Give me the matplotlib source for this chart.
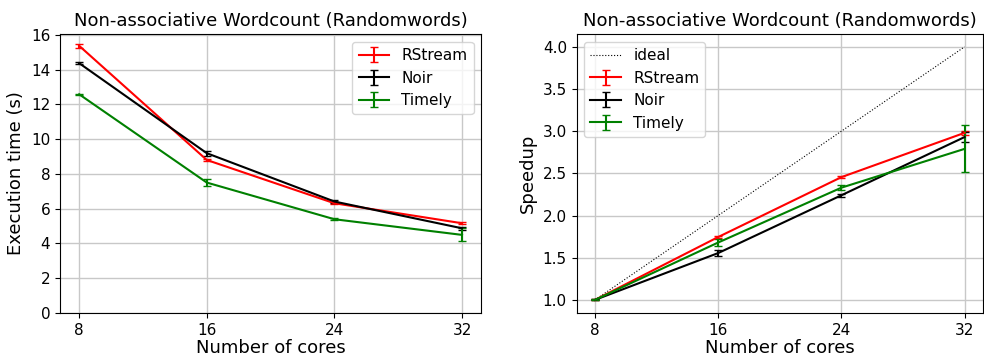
import matplotlib
matplotlib.use("Agg")
import matplotlib.pyplot as plt
import numpy as np

cores = [8, 16, 24, 32]

# execution time (s)
rstream_time = [15.37, 8.80, 6.31, 5.16]
rstream_time_err = [0.10, 0.08, 0.06, 0.05]
noir_time = [14.37, 9.19, 6.41, 4.87]
noir_time_err = [0.06, 0.15, 0.06, 0.10]
timely_time = [12.58, 7.50, 5.39, 4.49]
timely_time_err = [0.03, 0.18, 0.05, 0.38]

# speedup
ideal = [1.0, 2.0, 3.0, 4.0]
rstream_speedup = [1.0, 1.745, 2.455, 2.98]
rstream_speedup_err = [0.005, 0.015, 0.01, 0.02]
noir_speedup = [1.0, 1.555, 2.24, 2.93]
noir_speedup_err = [0.005, 0.03, 0.02, 0.06]
timely_speedup = [1.0, 1.68, 2.33, 2.79]
timely_speedup_err = [0.005, 0.04, 0.03, 0.28]

title = "Non-associative Wordcount (Randomwords)"

fig = plt.figure(figsize=(9.84, 3.56), dpi=100)
ax1 = fig.add_axes([0.061, 0.121, 0.428, 0.783])
ax2 = fig.add_axes([0.586, 0.121, 0.413, 0.783])

for ax in (ax1, ax2):
    ax.grid(True, color="#c8c8c8", linewidth=1.0)
    ax.set_axisbelow(True)

ax1.errorbar(cores, rstream_time, yerr=rstream_time_err, color="red", capsize=3, label="RStream")
ax1.errorbar(cores, noir_time, yerr=noir_time_err, color="black", capsize=3, label="Noir")
ax1.errorbar(cores, timely_time, yerr=timely_time_err, color="green", capsize=3, label="Timely")
ax1.set_ylim(bottom=0)
ax1.set_title(title, fontsize=13)
ax1.set_xlabel("Number of cores", fontsize=13, labelpad=1)
ax1.set_ylabel("Execution time (s)", fontsize=13)
ax1.set_xticks(cores)
ax1.tick_params(labelsize=11)
ax1.legend(loc="upper right", fontsize=11)

ax2.plot(cores, ideal, color="black", linestyle=":", linewidth=0.8, label="ideal")
ax2.errorbar(cores, rstream_speedup, yerr=rstream_speedup_err, color="red", capsize=3, label="RStream")
ax2.errorbar(cores, noir_speedup, yerr=noir_speedup_err, color="black", capsize=3, label="Noir")
ax2.errorbar(cores, timely_speedup, yerr=timely_speedup_err, color="green", capsize=3, label="Timely")
ax2.set_title(title, fontsize=13)
ax2.set_xlabel("Number of cores", fontsize=13, labelpad=1)
ax2.set_ylabel("Speedup", fontsize=13)
ax2.set_xticks(cores)
ax2.tick_params(labelsize=11)
ax2.legend(loc="upper left", fontsize=11)

fig.savefig("out.png", dpi=100)
